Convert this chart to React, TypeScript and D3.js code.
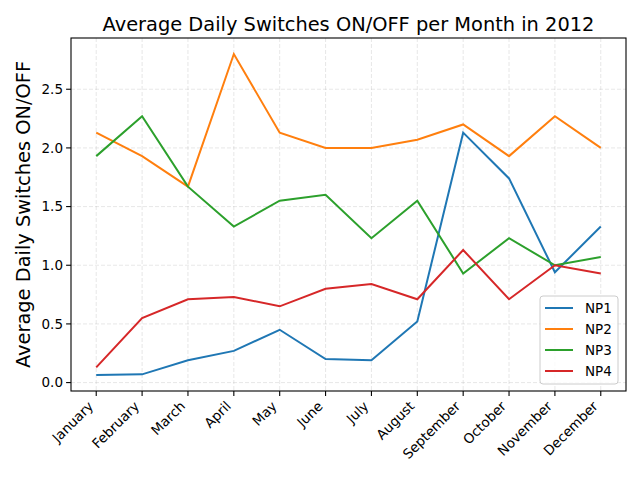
import React from 'react';
import * as d3 from 'd3';

const months = ['January', 'February', 'March', 'April', 'May', 'June', 'July', 'August', 'September', 'October', 'November', 'December'];
const np1 = [0.065, 0.07, 0.19, 0.27, 0.45, 0.2, 0.19, 0.52, 2.13, 1.74, 0.94, 1.33];
const np2 = [2.13, 1.93, 1.67, 2.8, 2.13, 2.0, 2.0, 2.07, 2.2, 1.93, 2.27, 2.0];
const np3 = [1.93, 2.27, 1.67, 1.33, 1.55, 1.6, 1.23, 1.55, 0.93, 1.23, 1.0, 1.07];
const np4 = [0.13, 0.55, 0.71, 0.73, 0.65, 0.8, 0.84, 0.71, 1.13, 0.71, 1.0, 0.93];
const seriesNames = ['NP1', 'NP2', 'NP3', 'NP4'];
const yTicks = [0, 0.5, 1.0, 1.5, 2.0, 2.5];

const colors = ['#1f77b4', '#ff7f0e', '#2ca02c', '#d62728'];
const font = 'DejaVu Sans, sans-serif';

const App: React.FC = () => {
  const width = 640;
  const height = 480;
  const margin = { top: 38, right: 14, bottom: 89, left: 71 };
  const all = [np1, np2, np3, np4];

  const idx = d3.range(months.length);
  const x = d3.scaleLinear()
    .domain([-0.55, months.length - 1 + 0.55])
    .range([margin.left, width - margin.right]);

  const flat = all.flat();
  const lo = d3.min(flat) || 0;
  const hi = d3.max(flat) || 0;
  const pad = (hi - lo) * 0.05;
  const y = d3.scaleLinear()
    .domain([lo - pad, hi + pad])
    .range([height - margin.bottom, margin.top]);

  const line = d3.line<number>()
    .x((_, i) => x(i))
    .y(d => y(d));

  const plotBottom = height - margin.bottom;
  const plotRight = width - margin.right;

  return (
    <svg width={width} height={height} style={{ position: 'absolute', left: 0, top: 0 }} fontFamily={font}>
      <rect width={width} height={height} fill="#fff" />

      {/* grid */}
      <g stroke="#b0b0b0" strokeOpacity={0.3} strokeDasharray="4,2" strokeWidth={1}>
        {idx.map(i => (
          <line key={'gx' + i} x1={x(i)} x2={x(i)} y1={margin.top} y2={plotBottom} />
        ))}
        {yTicks.map(t => (
          <line key={'gy' + t} x1={margin.left} x2={plotRight} y1={y(t)} y2={y(t)} />
        ))}
      </g>

      {/* series */}
      {all.map((s, k) => (
        <path key={seriesNames[k]} d={line(s) || ''} fill="none" stroke={colors[k]} strokeWidth={2} />
      ))}

      {/* frame */}
      <rect x={margin.left} y={margin.top} width={plotRight - margin.left} height={plotBottom - margin.top}
        fill="none" stroke="#000" strokeWidth={1.1} />

      {/* y axis */}
      <g fontSize={13.5} textAnchor="end">
        {yTicks.map(t => (
          <g key={'yt' + t}>
            <line x1={margin.left - 4.9} x2={margin.left} y1={y(t)} y2={y(t)} stroke="#000" strokeWidth={1.1} />
            <text x={margin.left - 8} y={y(t)} dy="0.35em">{d3.format('.1f')(t)}</text>
          </g>
        ))}
      </g>

      {/* x axis */}
      <g fontSize={13.5} textAnchor="end">
        {idx.map(i => (
          <g key={'xt' + i}>
            <line x1={x(i)} x2={x(i)} y1={plotBottom} y2={plotBottom + 4.9} stroke="#000" strokeWidth={1.1} />
            <text transform={`translate(${x(i) - 2},${plotBottom + 16}) rotate(-45)`}>{months[i]}</text>
          </g>
        ))}
      </g>

      {/* labels */}
      <text x={(margin.left + plotRight) / 2} y={31} textAnchor="middle" fontSize={19.4}>
        Average Daily Switches ON/OFF per Month in 2012
      </text>
      <text transform={`translate(30,${(margin.top + plotBottom) / 2}) rotate(-90)`} textAnchor="middle" fontSize={19.4}>
        Average Daily Switches ON/OFF
      </text>

      {/* legend */}
      <g transform={`translate(${plotRight - 86},${plotBottom - 95})`}>
        <rect width={78} height={88} rx={3} fill="#fff" fillOpacity={0.8} stroke="#cccccc" strokeWidth={1} />
        {seriesNames.map((n, k) => (
          <g key={'lg' + n} transform={`translate(0,${12 + k * 21})`}>
            <line x1={5} x2={33} y1={0} y2={0} stroke={colors[k]} strokeWidth={2} />
            <text x={45} y={0} dy="0.35em" fontSize={13.5}>{n}</text>
          </g>
        ))}
      </g>
    </svg>
  );
};

export default App;
